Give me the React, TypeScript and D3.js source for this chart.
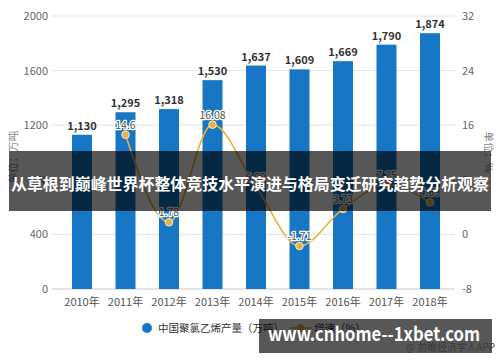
import React from "react";
import * as d3 from "d3";

const years = ["2010年", "2011年", "2012年", "2013年", "2014年", "2015年", "2016年", "2017年", "2018年"];
const output = [1130, 1295, 1318, 1530, 1637, 1609, 1669, 1790, 1874];
const outputLabels = ["1,130", "1,295", "1,318", "1,530", "1,637", "1,609", "1,669", "1,790", "1,874"];
const growthYears = ["2011年", "2012年", "2013年", "2014年", "2015年", "2016年", "2017年", "2018年"];
const growth = [14.6, 1.78, 16.08, 6.99, -1.71, 3.73, 7.25, 4.69];
const leftTicks = [0, 400, 800, 1200, 1600, 2000];
const rightTicks = [-8, 0, 8, 16, 24, 32];

const W = 500;
const H = 362;
const FONT = "'Noto Sans CJK SC', 'Noto Sans', sans-serif";
const BLUE = "#1777c4";
const GOLD = "#edb03a";

export default function App() {
  const x = d3.scaleBand<string>().domain(years).range([60.25, 451.75]).paddingInner(0.54).paddingOuter(0.27);
  const yL = d3.scaleLinear().domain([0, 2000]).range([289, 16]);
  const yR = d3.scaleLinear().domain([-8, 32]).range([289, 16]);
  const cx = (c: string) => (x(c) as number) + x.bandwidth() / 2;

  const line = d3
    .line<number>()
    .x((_, i) => cx(growthYears[i]))
    .y((d) => yR(d))
    .curve(d3.curveMonotoneX);

  return (
    <svg width={W} height={H} style={{ position: "absolute", left: 0, top: 0, background: "#fff" }} fontFamily={FONT}>
      {/* grid */}
      {leftTicks.map((t) => (
        <line key={"g" + t} x1={52} x2={455} y1={yL(t)} y2={yL(t)} stroke={t === 0 ? "#cccccc" : "#e3e3e3"} strokeWidth={1} />
      ))}
      {leftTicks.map((t) => (
        <text key={"l" + t} x={48} y={yL(t) + 4} textAnchor="end" fontSize={11} fill="#666">
          {t}
        </text>
      ))}
      {rightTicks.map((t) => (
        <text key={"r" + t} x={462} y={yR(t) + 4} textAnchor="start" fontSize={11} fill="#666">
          {t}
        </text>
      ))}
      <text transform="translate(17,157) rotate(-90)" textAnchor="middle" fontSize={10.5} fill="#888">
        单位：万吨
      </text>
      <text transform="translate(485,152) rotate(90)" textAnchor="middle" fontSize={10.5} fill="#888">
        单位：%
      </text>

      {/* bars */}
      {years.map((c, i) => (
        <rect key={"b" + c} x={x(c)} y={yL(output[i])} width={x.bandwidth()} height={yL(0) - yL(output[i])} fill={BLUE} />
      ))}
      {years.map((c, i) => (
        <text key={"bl" + c} x={cx(c)} y={yL(output[i]) - 5} textAnchor="middle" fontSize={11} fontWeight="bold" fill="#333">
          {outputLabels[i]}
        </text>
      ))}
      {years.map((c) => (
        <text key={"x" + c} x={cx(c)} y={306} textAnchor="middle" fontSize={11} fill="#555">
          {c}
        </text>
      ))}

      {/* growth line */}
      <path d={line(growth) || ""} fill="none" stroke={GOLD} strokeWidth={1.6} />
      {growth.map((v, i) => (
        <circle key={"d" + i} cx={cx(growthYears[i])} cy={yR(v)} r={3.8} fill={GOLD} stroke="#fff" strokeWidth={0.8} />
      ))}
      {growth.map((v, i) => (
        <text
          key={"dl" + i}
          x={cx(growthYears[i])}
          y={yR(v) - 6}
          textAnchor="middle"
          fontSize={10.5}
          fill="#555"
          stroke="#fff"
          strokeWidth={2.5}
          paintOrder="stroke"
          strokeLinejoin="round"
        >
          {v}
        </text>
      ))}

      {/* legend */}
      <circle cx={147} cy={328} r={5} fill={BLUE} />
      <text x={158} y={332} fontSize={10.5} fill="#333">
        中国聚氯乙烯产量（万吨）
      </text>
      <line x1={290} x2={311} y1={328} y2={328} stroke={GOLD} strokeWidth={1.6} />
      <circle cx={300.5} cy={328} r={3.8} fill={GOLD} />
      <text x={314} y={332} fontSize={10.5} fill="#333">
        增速（%）
      </text>

      {/* overlays */}
      <rect x={9} y={151} width={482} height={60} fill="rgba(0,0,0,0.66)" />
      <text x={250} y={190} textAnchor="middle" fontSize={16} fontWeight="bold" fill="#fff" textLength={478} lengthAdjust="spacingAndGlyphs">
        从草根到巅峰世界杯整体竞技水平演进与格局变迁研究趋势分析观察
      </text>
      <rect x={259} y={319} width={233} height={34} fill="rgba(0,0,0,0.66)" />
      <text x={374} y={341} textAnchor="middle" fontSize={19} fontWeight="bold" fill="#fff" textLength={212} lengthAdjust="spacingAndGlyphs">
        www.cnhome--1xbet.com
      </text>
      <text x={406} y={351} fontSize={10} fill="#3a3a3a" textLength={89} lengthAdjust="spacingAndGlyphs">
        @ 前瞻经济学人APP
      </text>
    </svg>
  );
}
